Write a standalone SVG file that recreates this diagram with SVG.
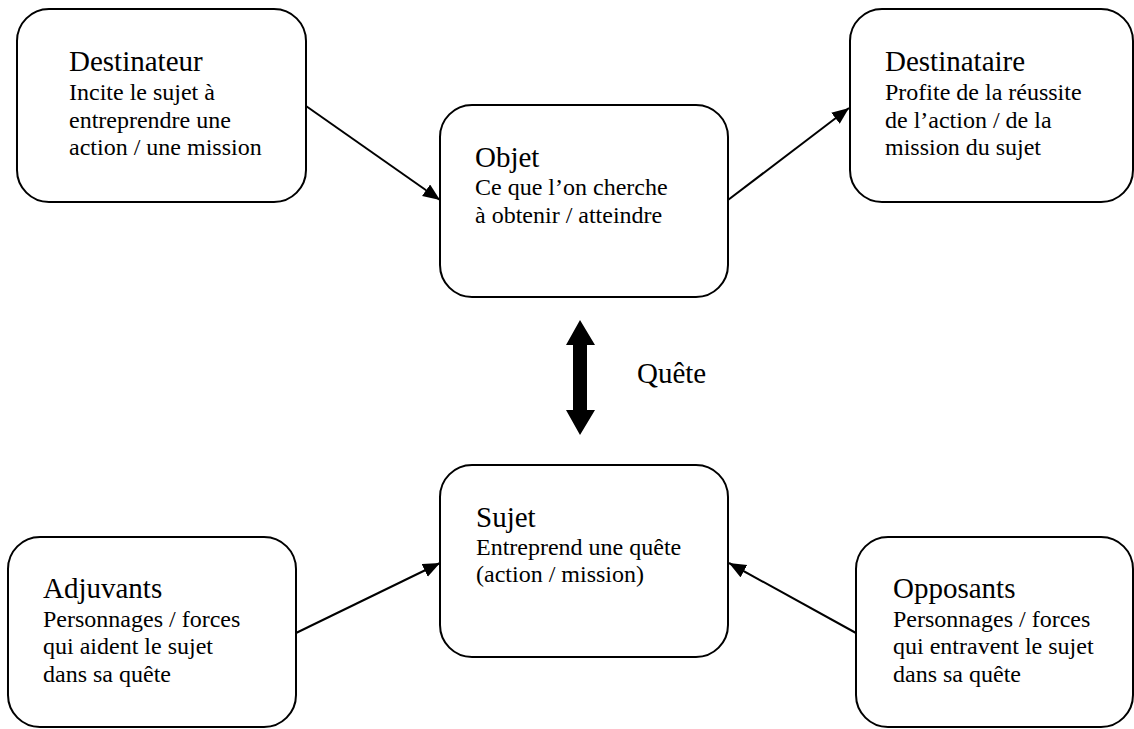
<svg xmlns="http://www.w3.org/2000/svg" width="1134" height="729" viewBox="0 0 1134 729">
<style>
.box{fill:#fff;stroke:#000;stroke-width:2}
.t{font-size:29px;fill:#000}
.s{font-size:24px;fill:#000}
.c{stroke:#000;stroke-width:2;fill:none;marker-end:url(#ah)}
</style>
<defs>
<marker id="ah" markerUnits="userSpaceOnUse" markerWidth="18" markerHeight="16" refX="17" refY="7" orient="auto">
<path d="M0,0 L17,7 L0,14 Z" fill="#000"/>
</marker>
</defs>
<rect width="1134" height="729" fill="#fff"/>
<g font-family="Liberation Serif, Times New Roman, serif">
<g id="connectors">
<line class="c" x1="306" y1="106" x2="440" y2="200"/>
<line class="c" x1="728" y1="200" x2="849" y2="108"/>
<line class="c" x1="296" y1="633" x2="440" y2="563"/>
<line class="c" x1="856" y1="633" x2="729" y2="563"/>
<path id="quete-arrow" d="M580,320 L595,345 L587,345 L587,410 L595,410 L580,435 L566,410 L573,410 L573,345 L566,345 Z" fill="#000"/>
<text class="t" x="637" y="383">Quête</text>
</g>
<g id="destinateur">
<rect class="box" x="17" y="9" width="289" height="193" rx="32"/>
<text class="t" x="69" y="71">Destinateur</text>
<text class="s" x="69" y="99.5">Incite le sujet à</text>
<text class="s" x="69" y="127.5">entreprendre une</text>
<text class="s" x="69" y="155">action / une mission</text>
</g>
<g id="objet">
<rect class="box" x="440" y="105" width="288" height="192" rx="32"/>
<text class="t" x="475" y="167">Objet</text>
<text class="s" x="475" y="195">Ce que l’on cherche</text>
<text class="s" x="475" y="222.5">à obtenir / atteindre</text>
</g>
<g id="destinataire">
<rect class="box" x="850" y="9" width="283" height="193" rx="32"/>
<text class="t" x="885" y="71">Destinataire</text>
<text class="s" x="885" y="99.5">Profite de la réussite</text>
<text class="s" x="885" y="127.5">de l’action / de la</text>
<text class="s" x="885" y="155">mission du sujet</text>
</g>
<g id="sujet">
<rect class="box" x="440" y="465" width="288" height="192" rx="32"/>
<text class="t" x="476" y="527">Sujet</text>
<text class="s" x="476" y="554.5">Entreprend une quête</text>
<text class="s" x="476" y="582">(action / mission)</text>
</g>
<g id="adjuvants">
<rect class="box" x="8" y="537" width="288" height="190" rx="32"/>
<text class="t" x="43" y="598">Adjuvants</text>
<text class="s" x="43" y="626.5">Personnages / forces</text>
<text class="s" x="43" y="654">qui aident le sujet</text>
<text class="s" x="43" y="681.5">dans sa quête</text>
</g>
<g id="opposants">
<rect class="box" x="856" y="537" width="277" height="190" rx="32"/>
<text class="t" x="893" y="598">Opposants</text>
<text class="s" x="893" y="626.5">Personnages / forces</text>
<text class="s" x="893" y="654">qui entravent le sujet</text>
<text class="s" x="893" y="681.5">dans sa quête</text>
</g>
</g>
</svg>
